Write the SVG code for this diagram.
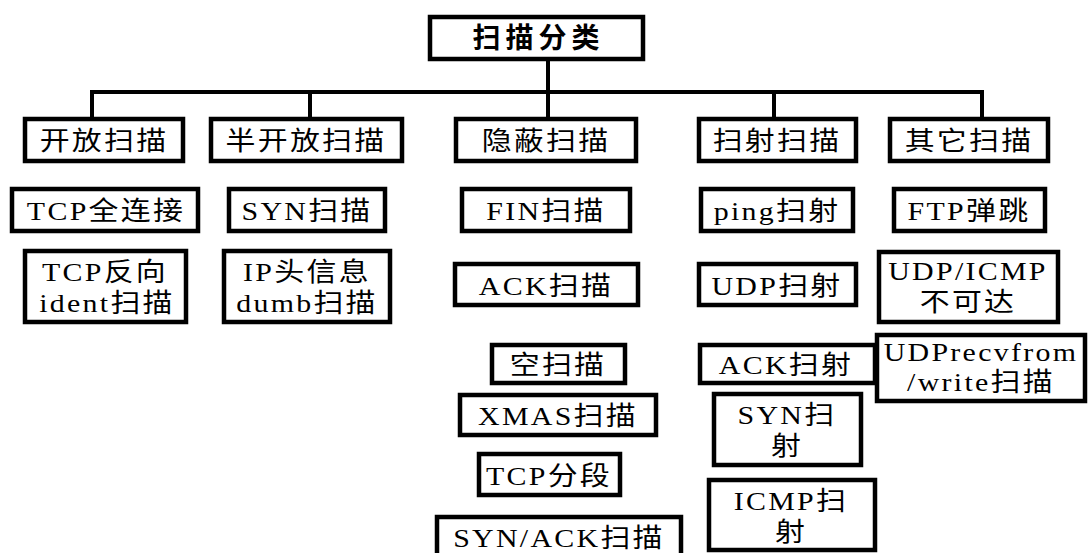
<svg xmlns="http://www.w3.org/2000/svg" width="1090" height="553" viewBox="0 0 1090 553">
<style>
.b{fill:#fff;stroke:#000;stroke-width:4.5}
.t{font-family:"Liberation Serif","Noto Sans CJK SC",serif;font-size:26px;letter-spacing:2px;text-anchor:middle;fill:#000;transform-box:fill-box;transform-origin:50% 50%;transform:scaleX(1.15)}
.r{font-family:"Noto Sans CJK SC","Liberation Sans",sans-serif;font-size:28px;font-weight:bold;letter-spacing:5px;text-anchor:middle;fill:#000;transform:translate(2.5px,0)}
.c{fill:none;stroke:#000;stroke-width:4}
</style>
<rect width="1090" height="553" fill="#fff"/>
<g id="connectors">
<path class="c" d="M548 59V117M92 117V92H982V117M310 92V117M774 92V117"/>
</g>
<g id="root"><rect class="b" x="430" y="17" width="213" height="42"/><text class="r" x="536" y="48">扫描分类</text></g>
<g id="open"><rect class="b" x="25" y="119" width="158" height="42"/><text class="t" x="104" y="150">开放扫描</text></g>
<g id="halfopen"><rect class="b" x="211" y="119" width="191" height="42"/><text class="t" x="306" y="150">半开放扫描</text></g>
<g id="stealth"><rect class="b" x="456" y="119" width="180" height="42"/><text class="t" x="546" y="150">隐蔽扫描</text></g>
<g id="sweep"><rect class="b" x="699" y="119" width="157" height="42"/><text class="t" x="777" y="150">扫射扫描</text></g>
<g id="other"><rect class="b" x="890" y="119" width="158" height="42"/><text class="t" x="969" y="150">其它扫描</text></g>

<g id="tcpfull"><rect class="b" x="12" y="189" width="186" height="42"/><text class="t" x="106" y="220">TCP全连接</text></g>
<g id="tcpident"><rect class="b" x="25" y="251" width="161" height="71"/><text class="t" x="105" y="281">TCP反向</text><text class="t" x="107" y="312">ident扫描</text></g>
<g id="syn"><rect class="b" x="229" y="189" width="156" height="42"/><text class="t" x="307" y="220">SYN扫描</text></g>
<g id="dumb"><rect class="b" x="224" y="251" width="166" height="71"/><text class="t" x="307" y="281">IP头信息</text><text class="t" x="307" y="312">dumb扫描</text></g>

<g id="fin"><rect class="b" x="462" y="189" width="168" height="42"/><text class="t" x="546" y="220">FIN扫描</text></g>
<g id="ack"><rect class="b" x="455" y="264" width="183" height="41"/><text class="t" x="546" y="295">ACK扫描</text></g>
<g id="null"><rect class="b" x="492" y="345" width="133" height="38"/><text class="t" x="558" y="374">空扫描</text></g>
<g id="xmas"><rect class="b" x="460" y="395" width="196" height="40"/><text class="t" x="558" y="425">XMAS扫描</text></g>
<g id="frag"><rect class="b" x="479" y="454" width="141" height="41"/><text class="t" x="549" y="485">TCP分段</text></g>
<g id="synack"><rect class="b" x="437" y="517" width="244" height="40"/><text class="t" x="559" y="547">SYN/ACK扫描</text></g>

<g id="ping"><rect class="b" x="701" y="189" width="152" height="42"/><text class="t" x="777" y="220">ping扫射</text></g>
<g id="udpsweep"><rect class="b" x="699" y="264" width="157" height="41"/><text class="t" x="777" y="295">UDP扫射</text></g>
<g id="acksweep"><rect class="b" x="700" y="345" width="175" height="38"/><text class="t" x="786" y="374">ACK扫射</text></g>
<g id="synsweep"><rect class="b" x="714" y="394" width="147" height="71"/><text class="t" x="787" y="424">SYN扫</text><text class="t" x="787" y="455">射</text></g>
<g id="icmpsweep"><rect class="b" x="709" y="480" width="166" height="70"/><text class="t" x="791" y="510">ICMP扫</text><text class="t" x="791" y="541">射</text></g>

<g id="ftp"><rect class="b" x="894" y="189" width="151" height="42"/><text class="t" x="969" y="220">FTP弹跳</text></g>
<g id="unreach"><rect class="b" x="879" y="252" width="179" height="70"/><text class="t" x="968" y="280">UDP/ICMP</text><text class="t" x="968" y="311">不可达</text></g>
<g id="recvfrom"><rect class="b" x="877" y="335" width="208" height="66"/><text class="t" x="981" y="361">UDPrecvfrom</text><text class="t" x="981" y="391">/write扫描</text></g>
</svg>
